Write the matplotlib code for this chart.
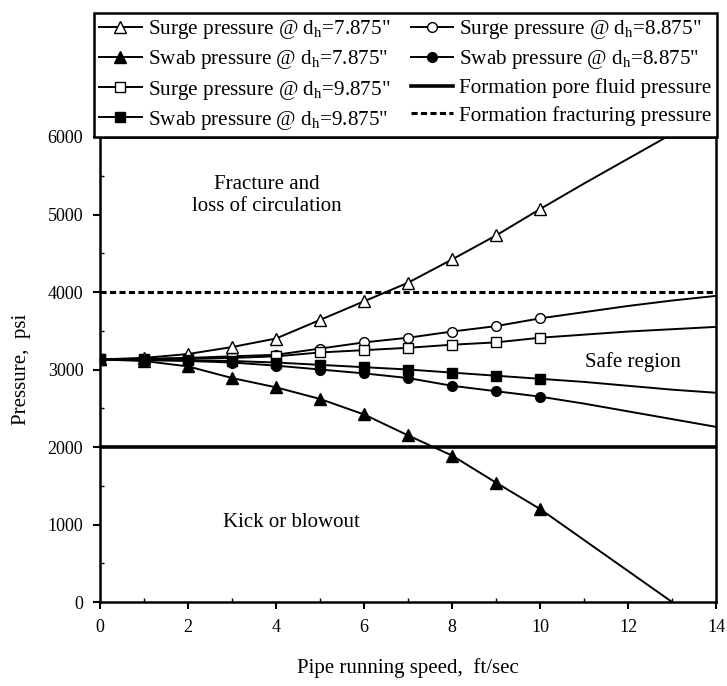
import matplotlib
matplotlib.use('Agg')
import matplotlib.pyplot as plt

plt.rcParams['font.family'] = ['Liberation Serif', 'DejaVu Serif']
plt.rcParams['mathtext.fontset'] = 'custom'
plt.rcParams['mathtext.rm'] = 'Liberation Serif'
plt.rcParams['mathtext.it'] = 'Liberation Serif:italic'

# pipe running speed, ft/sec (markers only up to 10)
speed = [0, 1, 2, 3, 4, 5, 6, 7, 8, 9, 10, 11, 12, 13, 14]
surge_7875 = [3130, 3150, 3200, 3290, 3400, 3640, 3880, 4120, 4420, 4730, 5070, 5400, 5720, 6040, 6360]
swab_7875 = [3130, 3110, 3040, 2890, 2770, 2620, 2420, 2150, 1890, 1540, 1200, 800, 400, 0, -400]
surge_8875 = [3130, 3140, 3150, 3170, 3190, 3270, 3350, 3410, 3490, 3560, 3660, 3740, 3820, 3890, 3950]
swab_8875 = [3130, 3120, 3110, 3090, 3050, 3000, 2950, 2890, 2790, 2720, 2650, 2560, 2460, 2360, 2260]
surge_9875 = [3130, 3135, 3140, 3150, 3170, 3220, 3250, 3280, 3320, 3350, 3410, 3450, 3490, 3520, 3550]
swab_9875 = [3130, 3125, 3120, 3110, 3090, 3060, 3030, 3000, 2960, 2920, 2880, 2840, 2790, 2740, 2700]
pore_pressure = 2000
fracture_pressure = 4000

labels = ['Surge pressure @ d$_\\mathregular{h}$=7.875"',
          'Swab pressure @ d$_\\mathregular{h}$=7.875"',
          'Surge pressure @ d$_\\mathregular{h}$=9.875"',
          'Swab pressure @ d$_\\mathregular{h}$=9.875"',
          'Surge pressure @ d$_\\mathregular{h}$=8.875"',
          'Swab pressure @ d$_\\mathregular{h}$=8.875"',
          'Formation pore fluid pressure',
          'Formation fracturing pressure']

fig = plt.figure(figsize=(7.27, 6.86), dpi=100)
ax = fig.add_axes([0.1376, 0.1224, 0.8474, 0.6779])

marks = list(range(11))
h = {}
h['pore'] = ax.axhline(pore_pressure, color='black', lw=2.6)
h['frac'] = ax.axhline(fracture_pressure, color='black', lw=2.2, ls=(0, (2.0, 1.1)))
h['sw8'], = ax.plot(speed, swab_8875, color='black', lw=1.4, marker='o', ms=7, markevery=marks)
h['su8'], = ax.plot(speed, surge_8875, color='black', lw=1.4, marker='o', ms=7, mfc='white', markevery=marks)
h['su9'], = ax.plot(speed, surge_9875, color='black', lw=1.4, marker='s', ms=6.5, mfc='white', markevery=marks)
h['su7'], = ax.plot(speed, surge_7875, color='black', lw=1.4, marker='^', ms=8, mfc='white', markevery=marks)
h['sw7'], = ax.plot(speed, swab_7875, color='black', lw=1.4, marker='^', ms=8, markevery=marks)
h['sw9'], = ax.plot(speed, swab_9875, color='black', lw=1.4, marker='s', ms=7, markevery=marks)

ax.set_xlim(0, 14)
ax.set_ylim(0, 6000)
ax.set_xticks(range(0, 15, 2))
ax.set_xticks(range(1, 14, 2), minor=True)
ax.set_yticks(range(0, 6001, 1000))
ax.set_yticks(range(500, 6000, 1000), minor=True)
ax.tick_params(which='major', direction='out', length=5, width=1.5, labelsize=13, pad=7)
ax.tick_params(which='minor', direction='in', length=3, width=1)
for s in ax.spines.values():
    s.set_linewidth(1.8)

ax.set_xlabel('Pipe running speed,  ft/sec', fontsize=15, labelpad=16)
ax.set_ylabel('Pressure,  psi', fontsize=15, labelpad=12)

# region names
ax.text(3.8, 5250, 'Fracture and\nloss of circulation', ha='center', va='center', fontsize=15, linespacing=1.2)
ax.text(12.1, 3100, 'Safe region', ha='center', va='center', fontsize=15)
ax.text(4.35, 1030, 'Kick or blowout', ha='center', va='center', fontsize=15)

order = ['su7', 'sw7', 'su9', 'sw9', 'su8', 'sw8', 'pore', 'frac']
leg = fig.legend([h[k] for k in order], labels, ncol=2, fontsize=15.2,
                 loc='lower left', bbox_to_anchor=(94 / 727, 1 - 137 / 686, 623 / 727, 0.19),
                 mode='expand', fancybox=False, edgecolor='black', framealpha=1,
                 handlelength=2.0, handletextpad=0.3, columnspacing=0.3,
                 labelspacing=0.34, borderpad=0.25, borderaxespad=0)
leg.get_frame().set_linewidth(1.8)

plt.savefig('out.png', dpi=100)
